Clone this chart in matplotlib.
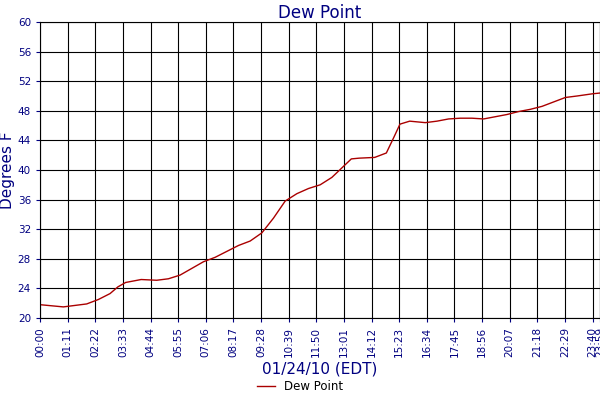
import matplotlib
matplotlib.use("Agg")
import matplotlib.pyplot as plt
import numpy as np

# time in minutes since midnight, dew point in F
times = ["00:00", "00:40", "01:00", "01:30", "02:00", "02:30", "03:00", "03:20",
         "03:40", "04:20", "05:00", "05:30", "06:00", "06:30", "07:00", "07:30",
         "08:00", "08:30", "09:00", "09:30", "10:00", "10:30", "11:00", "11:30",
         "12:00", "12:30", "13:00", "13:20", "13:40", "14:20", "14:50", "15:10",
         "15:25", "15:50", "16:30", "17:00", "17:30", "18:00", "18:30", "19:00",
         "19:30", "20:00", "20:30", "21:00", "21:30", "22:00", "22:30", "23:00",
         "23:40", "23:59"]
dew = [21.8, 21.6, 21.5, 21.7, 21.9, 22.5, 23.3, 24.2, 24.8, 25.2, 25.1, 25.3,
       25.8, 26.7, 27.6, 28.2, 29.0, 29.8, 30.4, 31.5, 33.5, 35.8, 36.8, 37.5,
       38.0, 39.0, 40.5, 41.5, 41.6, 41.7, 42.3, 44.5, 46.2, 46.6, 46.4, 46.6,
       46.9, 47.0, 47.0, 46.9, 47.2, 47.5, 47.9, 48.2, 48.6, 49.2, 49.8, 50.0,
       50.3, 50.4]
tick_labels = ["00:00", "01:11", "02:22", "03:33", "04:44", "05:55", "07:06",
               "08:17", "09:28", "10:39", "11:50", "13:01", "14:12", "15:23",
               "16:34", "17:45", "18:56", "20:07", "21:18", "22:29", "23:40", "23:59"]


def to_min(s):
    h, m = s.split(":")
    return int(h) * 60 + int(m)


x = np.array([to_min(t) for t in times])
ticks = [to_min(t) for t in tick_labels]
navy = "#000080"

fig = plt.figure(figsize=(6, 4), dpi=100)
ax = fig.add_axes([40 / 600, 82 / 400, 560 / 600, 296 / 400])
ax.plot(x, dew, color="#aa0000", lw=1, label="Dew Point")
ax.set_xlim(0, 1439)
ax.set_ylim(20, 60)
ax.set_yticks(np.arange(20, 61, 4))
ax.set_xticks(ticks)
ax.set_xticklabels(tick_labels, rotation=90)
ax.tick_params(colors=navy, labelsize=7.5, length=3)
for lab in ax.get_xticklabels() + ax.get_yticklabels():
    lab.set_color(navy)
ax.grid(True, color="black", lw=0.8)
for s in ax.spines.values():
    s.set_color("black")
ax.set_title("Dew Point", color=navy, fontsize=12, pad=3)
ax.set_ylabel("Degrees F", color=navy, fontsize=11, labelpad=2)
ax.set_xlabel("01/24/10 (EDT)", color=navy, fontsize=11, labelpad=3)
fig.legend(loc="lower center", bbox_to_anchor=(0.5, -0.01), frameon=False,
           fontsize=8.5, handlelength=1.5)
fig.savefig("out.png", dpi=100)
